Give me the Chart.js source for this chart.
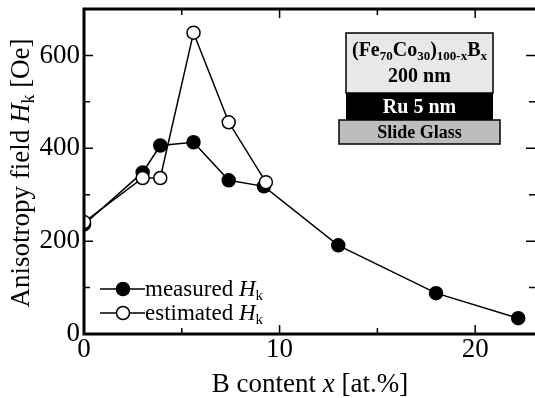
<!DOCTYPE html>
<html>
<head>
<meta charset="utf-8">
<script src="https://cdn.jsdelivr.net/npm/chart.js@4/dist/chart.umd.min.js"></script>
<style>
  html, body { margin: 0; padding: 0; background: #fff; }
  #wrap { width: 535px; height: 398px; }
</style>
</head>
<body>
<div id="wrap"><canvas id="hk"></canvas></div>
<script>
// B content x [at.%] and anisotropy field Hk [Oe]
const bContent = [0, 3.0, 3.9, 5.6, 7.4, 9.2, 13.0, 18.0, 22.2];
const measuredHk = [236, 348, 406, 413, 331, 318, 191, 88, 34];
const estimatedX = [0, 3.0, 3.9, 5.6, 7.4, 9.3];
const estimatedHk = [241, 336, 336, 649, 456, 327];

const SERIF = "'Liberation Serif', 'Times New Roman', serif";

// draws a run of text pieces one after another
function drawRuns(ctx, runs, x, y, align) {
  let total = 0;
  runs.forEach((r) => { ctx.font = r.font; total += ctx.measureText(r.t).width; });
  let cx = align === "center" ? x - total / 2 : x;
  ctx.textAlign = "left";
  ctx.textBaseline = "alphabetic";
  runs.forEach((r) => {
    ctx.font = r.font;
    ctx.fillText(r.t, cx, y + (r.dy || 0));
    cx += ctx.measureText(r.t).width;
  });
}

const extras = {
  id: "extras",
  afterDraw(chart) {
    const ctx = chart.ctx;
    const a = chart.chartArea;
    const xs = chart.scales.x, ys = chart.scales.y;
    ctx.save();
    ctx.strokeStyle = "#000";
    ctx.fillStyle = "#000";

    // frame (left, bottom, top) - right edge is cut off in the original
    ctx.lineWidth = 3;
    ctx.beginPath();
    ctx.moveTo(chart.width, a.top);
    ctx.lineTo(a.left, a.top);
    ctx.lineTo(a.left, a.bottom);
    ctx.lineTo(chart.width, a.bottom);
    ctx.stroke();

    // inward ticks
    ctx.lineWidth = 1.5;
    ctx.beginPath();
    for (let v = 0; v <= ys.max; v += 100) {
      const py = ys.getPixelForValue(v);
      const len = v % 200 === 0 ? 9 : 6;
      ctx.moveTo(a.left, py); ctx.lineTo(a.left + len, py);
      ctx.moveTo(chart.width, py); ctx.lineTo(chart.width - len, py);
    }
    for (let v = 0; v <= xs.max; v += 5) {
      const px = xs.getPixelForValue(v);
      const len = v % 10 === 0 ? 9 : 6;
      ctx.moveTo(px, a.bottom); ctx.lineTo(px, a.bottom - len);
      ctx.moveTo(px, a.top); ctx.lineTo(px, a.top + len);
    }
    ctx.stroke();

    // axis titles
    const f = "27px " + SERIF;
    drawRuns(ctx, [
      { t: "B content ", font: f },
      { t: "x", font: "italic " + f },
      { t: " [at.%]", font: f }
    ], 310, 392, "center");

    ctx.save();
    ctx.translate(29, 173);
    ctx.rotate(-Math.PI / 2);
    drawRuns(ctx, [
      { t: "Anisotropy field ", font: f },
      { t: "H", font: "italic " + f },
      { t: "k", font: "18px " + SERIF, dy: 5 },
      { t: " [Oe]", font: f }
    ], 0, 0, "center");
    ctx.restore();

    // legend
    const lf = "23px " + SERIF;
    const rows = [
      { y: 289, fill: "#000", label: "measured " },
      { y: 313, fill: "#fff", label: "estimated " }
    ];
    rows.forEach((r) => {
      ctx.lineWidth = 1.5;
      ctx.beginPath();
      ctx.moveTo(100, r.y); ctx.lineTo(145, r.y);
      ctx.stroke();
      ctx.beginPath();
      ctx.arc(123, r.y, 6.5, 0, Math.PI * 2);
      ctx.fillStyle = r.fill;
      ctx.fill();
      ctx.stroke();
      ctx.fillStyle = "#000";
      drawRuns(ctx, [
        { t: r.label, font: lf },
        { t: "H", font: "italic " + lf },
        { t: "k", font: "15px " + SERIF, dy: 4 }
      ], 145, r.y + 7, "left");
    });

    // layer stack inset
    ctx.lineWidth = 1.5;
    ctx.fillStyle = "#e8e8e8";
    ctx.fillRect(346, 33, 147, 60);
    ctx.strokeRect(346, 33, 147, 60);
    ctx.fillStyle = "#000";
    ctx.fillRect(346, 93, 147, 27);
    ctx.fillStyle = "#bdbdbd";
    ctx.fillRect(339, 120, 161, 24);
    ctx.strokeRect(339, 120, 161, 24);

    const bf = "bold 18px " + SERIF;
    const ff = "bold 20px " + SERIF;
    const bs = "bold 13px " + SERIF;
    ctx.fillStyle = "#000";
    drawRuns(ctx, [
      { t: "(Fe", font: ff }, { t: "70", font: bs, dy: 4 },
      { t: "Co", font: ff }, { t: "30", font: bs, dy: 4 },
      { t: ")", font: ff }, { t: "100-x", font: bs, dy: 4 },
      { t: "B", font: ff }, { t: "x", font: bs, dy: 4 }
    ], 419.5, 56, "center");
    drawRuns(ctx, [{ t: "200 nm", font: ff }], 419.5, 82, "center");
    ctx.fillStyle = "#fff";
    drawRuns(ctx, [{ t: "Ru 5 nm", font: ff }], 419.5, 113, "center");
    ctx.fillStyle = "#000";
    drawRuns(ctx, [{ t: "Slide Glass", font: bf }], 419.5, 138, "center");

    ctx.restore();
  }
};

new Chart(document.getElementById("hk"), {
  type: "line",
  data: {
    datasets: [
      {
        label: "measured Hk",
        data: bContent.map((x, i) => ({ x: x, y: measuredHk[i] })),
        borderColor: "#000",
        borderWidth: 1.5,
        pointBackgroundColor: "#000",
        pointBorderColor: "#000",
        pointBorderWidth: 1.5,
        pointRadius: 6.5,
        tension: 0,
        order: 2
      },
      {
        label: "estimated Hk",
        data: estimatedX.map((x, i) => ({ x: x, y: estimatedHk[i] })),
        borderColor: "#000",
        borderWidth: 1.5,
        pointBackgroundColor: "#fff",
        pointBorderColor: "#000",
        pointBorderWidth: 1.5,
        pointRadius: 6.5,
        tension: 0,
        order: 1
      }
    ]
  },
  options: {
    responsive: true,
    maintainAspectRatio: false,
    animation: false,
    devicePixelRatio: 1,
    layout: { padding: { top: 9, right: 0, left: 0, bottom: 0 } },
    plugins: { legend: { display: false }, tooltip: { enabled: false } },
    scales: {
      x: {
        type: "linear",
        min: 0,
        max: 22.65,
        grid: { display: false, drawTicks: false },
        border: { display: false },
        ticks: {
          stepSize: 10,
          includeBounds: false,
          color: "#000",
          padding: 0,
          maxRotation: 0,
          font: { family: SERIF, size: 27 }
        },
        afterFit: (s) => { s.height = 64; s.paddingLeft = 0; s.paddingRight = 0; }
      },
      y: {
        min: 0,
        max: 700,
        grid: { display: false, drawTicks: false },
        border: { display: false },
        ticks: {
          stepSize: 200,
          includeBounds: false,
          color: "#000",
          padding: 4,
          font: { family: SERIF, size: 27 }
        },
        afterFit: (s) => { s.width = 84; s.paddingTop = 0; s.paddingBottom = 0; }
      }
    }
  },
  plugins: [extras]
});
</script>
</body>
</html>
